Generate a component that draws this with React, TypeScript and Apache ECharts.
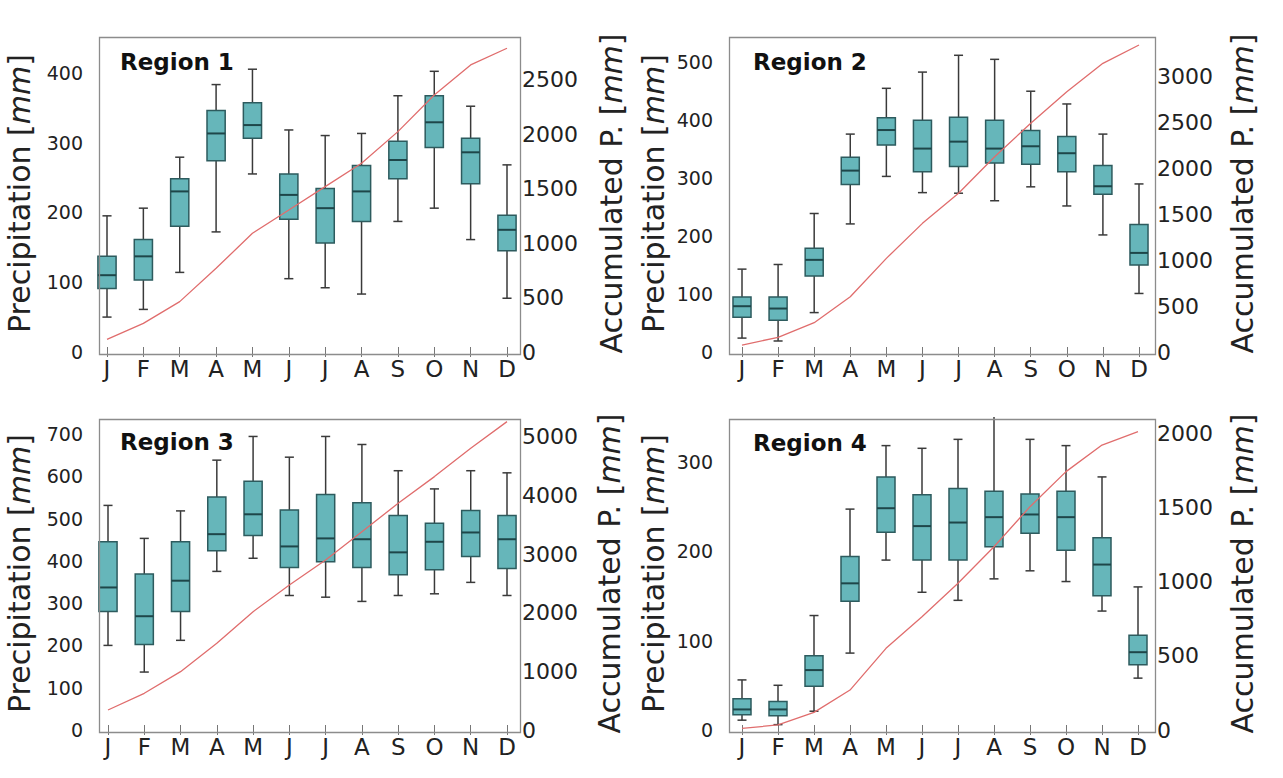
import React, { useEffect, useRef } from 'react';
import * as echarts from 'echarts';

const months = ['J', 'F', 'M', 'A', 'M', 'J', 'J', 'A', 'S', 'O', 'N', 'D'];
const regionNames = ['Region 1', 'Region 2', 'Region 3', 'Region 4'];

// [min, Q1, median, Q3, max] monthly precipitation (mm)
const region1Box = [
  [50, 91, 110, 137, 195], [61, 103, 137, 161, 206], [114, 180, 230, 248, 279],
  [172, 274, 313, 346, 383], [255, 306, 325, 357, 405], [105, 190, 225, 255, 318],
  [92, 156, 206, 234, 310], [83, 187, 230, 267, 313], [187, 248, 275, 302, 367],
  [206, 293, 329, 367, 402], [161, 241, 286, 306, 352], [77, 145, 175, 196, 268],
];
const region2Box = [
  [24, 60, 79, 95, 143], [19, 55, 75, 95, 151], [68, 131, 159, 179, 239],
  [221, 289, 313, 336, 376], [303, 357, 383, 404, 455], [275, 311, 351, 400, 483],
  [274, 320, 363, 405, 512], [261, 326, 351, 400, 505], [285, 324, 355, 382, 450],
  [252, 311, 343, 372, 428], [202, 272, 286, 322, 376], [101, 150, 171, 220, 290],
];
const region3Box = [
  [200, 280, 337, 445, 531], [137, 202, 269, 369, 453], [212, 280, 353, 445, 518],
  [375, 424, 463, 551, 638], [406, 460, 510, 588, 694], [318, 384, 434, 520, 645],
  [314, 398, 453, 557, 694], [304, 384, 451, 537, 675], [318, 367, 420, 507, 613],
  [322, 379, 445, 489, 570], [349, 410, 467, 519, 613], [318, 382, 451, 507, 608],
];
const region4Box = [
  [11, 17, 23, 35, 56], [6, 16, 23, 32, 50], [21, 49, 67, 83, 128],
  [86, 144, 164, 194, 247], [190, 221, 248, 283, 318], [154, 190, 228, 263, 315],
  [145, 190, 232, 270, 325], [169, 205, 238, 267, 372], [178, 220, 241, 264, 325],
  [166, 201, 238, 267, 318], [133, 150, 185, 215, 283], [58, 73, 87, 106, 160],
];

// accumulated precipitation (mm)
const region1Accum = [116, 263, 463, 769, 1091, 1305, 1520, 1734, 2025, 2362, 2638, 2791];
const region2Accum = [76, 160, 320, 603, 1021, 1403, 1731, 2130, 2494, 2839, 3148, 3348];
const region3Accum = [341, 626, 995, 1479, 2019, 2474, 2901, 3384, 3868, 4323, 4807, 5261];
const region4Accum = [11, 34, 119, 269, 550, 763, 988, 1234, 1504, 1740, 1919, 2009];

// axis ranges / tick steps
const leftMax = [454, 547, 740, 350];
const leftStep = [100, 100, 100, 100];
const rightMax = [2913, 3457, 5340, 2108];
const rightStep = [500, 500, 1000, 500];

const boxes = [region1Box, region2Box, region3Box, region4Box];
const accums = [region1Accum, region2Accum, region3Accum, region4Accum];

// layout: frame and data extents of each panel
const panels = [
  { left: 97, top: 35, right: 518, bottom: 352, dl: 107, dr: 507, lGap: 63, rGap: 78, tx: 120, ty: 50 },
  { left: 727, top: 35, right: 1153, bottom: 352, dl: 742, dr: 1139, lGap: 59, rGap: 74, tx: 753, ty: 50 },
  { left: 97, top: 417, right: 518, bottom: 730, dl: 108, dr: 507, lGap: 63, rGap: 76, tx: 120, ty: 430 },
  { left: 727, top: 417, right: 1153, bottom: 730, dl: 742, dr: 1138, lGap: 59, rGap: 74, tx: 753, ty: 431 },
];

const FONT = 'DejaVu Sans';

const renderBox = (params: any, api: any) => {
  const cs = params.coordSys;
  const topY = cs.y;
  const x = api.value(0);
  const pMin = api.coord([x, api.value(1)]);
  const pQ1 = api.coord([x, api.value(2)]);
  const pMed = api.coord([x, api.value(3)]);
  const pQ3 = api.coord([x, api.value(4)]);
  const pMax = api.coord([x, api.value(5)]);
  const maxY = Math.max(pMax[1], topY);
  const band = api.size([1, 0])[0];
  const bw = band * 0.5;
  const cw = bw * 0.5;
  const cx = pMed[0];
  const ws = { stroke: '#3a3a3a', lineWidth: 1.5 };
  const children: any[] = [
    { type: 'line', shape: { x1: cx, y1: maxY, x2: cx, y2: pQ3[1] }, style: ws },
    { type: 'line', shape: { x1: cx, y1: pQ1[1], x2: cx, y2: pMin[1] }, style: ws },
    { type: 'line', shape: { x1: cx - cw / 2, y1: pMin[1], x2: cx + cw / 2, y2: pMin[1] }, style: ws },
    {
      type: 'rect',
      shape: { x: cx - bw / 2, y: pQ3[1], width: bw, height: pQ1[1] - pQ3[1] },
      style: { fill: '#66b6ba', stroke: '#2d5b5e', lineWidth: 1.5 },
    },
    { type: 'line', shape: { x1: cx - bw / 2, y1: pMed[1], x2: cx + bw / 2, y2: pMed[1] }, style: { stroke: '#1e4649', lineWidth: 2 } },
  ];
  if (pMax[1] >= topY) {
    children.push({ type: 'line', shape: { x1: cx - cw / 2, y1: pMax[1], x2: cx + cw / 2, y2: pMax[1] }, style: ws });
  }
  return { type: 'group', children };
};

export default function App() {
  const ref = useRef<HTMLDivElement>(null);
  useEffect(() => {
    if (!ref.current) return;
    const chart = echarts.init(ref.current, undefined, { renderer: 'svg' });
    const grid: any[] = [];
    const xAxis: any[] = [];
    const yAxis: any[] = [];
    const series: any[] = [];
    const title: any[] = [];
    const graphic: any[] = [];
    const nameStyle = {
      fontSize: 30, color: '#222', fontFamily: FONT,
      rich: { it: { fontSize: 30, fontStyle: 'italic', color: '#222', fontFamily: FONT } },
    };
    panels.forEach((p, i) => {
      grid.push({ left: p.dl, top: p.top, width: p.dr - p.dl, height: p.bottom - p.top, containLabel: false });
      xAxis.push({
        type: 'category', gridIndex: i, data: months, boundaryGap: false, position: 'bottom',
        axisLine: { show: false },
        axisTick: { inside: true, length: 5, lineStyle: { color: '#777' } },
        axisLabel: { fontSize: 23, color: '#222', margin: 5, fontFamily: FONT, interval: 0 },
        splitLine: { show: false },
      });
      xAxis.push({
        type: 'category', gridIndex: i, data: months, boundaryGap: false, position: 'top',
        axisLine: { show: false },
        axisTick: { inside: true, length: 5, lineStyle: { color: '#777' } },
        axisLabel: { show: false },
        splitLine: { show: false },
      });
      const ls = leftStep[i];
      const rs = rightStep[i];
      yAxis.push({
        type: 'value', gridIndex: i, position: 'left', offset: p.dl - p.left,
        min: 0, max: leftMax[i], interval: ls,
        axisLine: { show: false },
        axisTick: { inside: true, length: 5, lineStyle: { color: '#777' } },
        axisLabel: { fontSize: 19, color: '#222', margin: 14, fontFamily: FONT, formatter: (v: number) => (v % ls === 0 ? String(v) : '') },
        splitLine: { show: false },
        name: 'Precipitation [{it|mm}]', nameLocation: 'middle', nameGap: p.lGap,
        nameTextStyle: nameStyle,
      });
      yAxis.push({
        type: 'value', gridIndex: i, position: 'right', offset: p.right - p.dr,
        min: 0, max: rightMax[i], interval: rs,
        axisLine: { show: false },
        axisTick: { inside: true, length: 5, lineStyle: { color: '#777' } },
        axisLabel: { fontSize: 22, color: '#222', margin: 4, fontFamily: FONT, formatter: (v: number) => (v % rs === 0 ? String(v) : '') },
        splitLine: { show: false },
        name: 'Accumulated P. [{it|mm}]', nameLocation: 'middle', nameGap: p.rGap,
        nameTextStyle: nameStyle,
      });
      series.push({
        type: 'custom', xAxisIndex: i * 2, yAxisIndex: i * 2, clip: false,
        renderItem: renderBox,
        encode: { x: 0, y: [1, 2, 3, 4, 5] },
        data: boxes[i].map((b, k) => [k, ...b]),
        z: 2,
      });
      series.push({
        type: 'line', xAxisIndex: i * 2, yAxisIndex: i * 2 + 1,
        data: accums[i].map((v, k) => [k, v]),
        showSymbol: false, symbol: 'none',
        lineStyle: { color: '#e06d6d', width: 1.3 },
        z: 3,
      });
      title.push({
        text: regionNames[i], left: p.tx, top: p.ty, padding: 0,
        textStyle: { fontSize: 23, fontWeight: 'bold', color: '#111', fontFamily: FONT },
      });
      graphic.push({
        type: 'rect', left: p.left, top: p.top, z: 10,
        shape: { x: 0, y: 0, width: p.right - p.left, height: p.bottom - p.top },
        style: { fill: 'none', stroke: '#8c8c8c', lineWidth: 1.3 },
        silent: true,
      });
    });
    chart.setOption({
      animation: false,
      backgroundColor: '#ffffff',
      textStyle: { fontFamily: FONT },
      title,
      grid,
      xAxis,
      yAxis,
      series,
      graphic,
    });
    return () => chart.dispose();
  }, []);
  return <div ref={ref} style={{ position: 'fixed', left: 0, top: 0, width: '1283px', height: '778px' }} />;
}
